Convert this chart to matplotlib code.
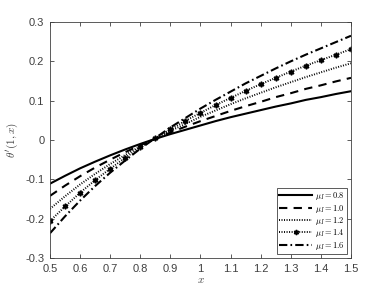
import matplotlib
matplotlib.use("Agg")
import matplotlib.pyplot as plt

plt.rcParams['mathtext.fontset'] = 'cm'
plt.rcParams['font.family'] = ['Liberation Sans', 'DejaVu Sans']

x = [0.50, 0.55, 0.60, 0.65, 0.70, 0.75, 0.80, 0.85, 0.90, 0.95, 1.00,
     1.05, 1.10, 1.15, 1.20, 1.25, 1.30, 1.35, 1.40, 1.45, 1.50]

mu08 = [-0.111, -0.091, -0.072, -0.055, -0.039, -0.024, -0.010, 0.003, 0.015, 0.026, 0.037,
        0.048, 0.058, 0.067, 0.076, 0.085, 0.093, 0.102, 0.109, 0.117, 0.124]
mu10 = [-0.142, -0.116, -0.092, -0.070, -0.050, -0.031, -0.013, 0.003, 0.019, 0.034, 0.048,
        0.061, 0.074, 0.086, 0.097, 0.109, 0.119, 0.130, 0.139, 0.149, 0.158]
mu12 = [-0.175, -0.143, -0.113, -0.086, -0.061, -0.038, -0.016, 0.004, 0.023, 0.041, 0.059,
        0.075, 0.091, 0.106, 0.120, 0.134, 0.147, 0.160, 0.172, 0.184, 0.195]
mu14 = [-0.206, -0.169, -0.134, -0.102, -0.073, -0.045, -0.019, 0.005, 0.027, 0.049, 0.069,
        0.089, 0.107, 0.125, 0.142, 0.158, 0.174, 0.189, 0.203, 0.217, 0.231]
mu16 = [-0.237, -0.194, -0.154, -0.117, -0.083, -0.052, -0.022, 0.005, 0.032, 0.056, 0.080,
        0.102, 0.123, 0.144, 0.163, 0.182, 0.200, 0.217, 0.233, 0.249, 0.265]

labels = [r'$\mu_I=0.8$', r'$\mu_I=1.0$', r'$\mu_I=1.2$', r'$\mu_I=1.4$', r'$\mu_I=1.6$']

# six-point star like matlab hexagram
hexagram = (6, 1, 0)

fig = plt.figure(figsize=(3.88, 2.91), dpi=100)
ax = fig.add_axes([0.1289, 0.1134, 0.7757, 0.811])

ax.plot(x, mu08, color='k', lw=1.5, ls='-', label=labels[0])
ax.plot(x, mu10, color='k', lw=1.5, ls=(0, (4, 3)), label=labels[1])
ax.plot(x, mu12, color='k', lw=1.4, ls=(0, (0.5, 0.8)), label=labels[2])
ax.plot(x, mu14, color='k', lw=1.4, ls=(0, (0.5, 0.8)), marker=hexagram, ms=4,
        mfc='k', mec='k', label=labels[3])
ax.plot(x, mu16, color='k', lw=1.5, ls=(0, (4, 1.5, 0.8, 1.5)), label=labels[4])

ax.set_xlim(0.5, 1.5)
ax.set_ylim(-0.3, 0.3)
ax.set_xticks([0.5, 0.6, 0.7, 0.8, 0.9, 1.0, 1.1, 1.2, 1.3, 1.4, 1.5])
ax.set_xticklabels(['0.5', '0.6', '0.7', '0.8', '0.9', '1', '1.1', '1.2', '1.3', '1.4', '1.5'])
ax.set_yticks([-0.3, -0.2, -0.1, 0, 0.1, 0.2, 0.3])
ax.set_yticklabels(['-0.3', '-0.2', '-0.1', '0', '0.1', '0.2', '0.3'])

grey = '#404040'
for s in ax.spines.values():
    s.set_color(grey)
    s.set_linewidth(0.6)
ax.tick_params(direction='in', top=True, right=True, length=3, width=0.6,
               colors=grey, labelsize=8, pad=4)

ax.set_xlabel(r'$x$', fontsize=8, color=grey, labelpad=1)
ax.set_ylabel(r"$\theta'(1,x)$", fontsize=8, color=grey, labelpad=4)

leg = ax.legend(loc='lower right', fontsize=6, handlelength=4.0, handletextpad=0.3,
                labelspacing=0.05, borderpad=0.25, borderaxespad=0.5,
                fancybox=False, framealpha=1, edgecolor=grey, markerscale=0.9)
leg.get_frame().set_linewidth(0.6)

fig.savefig('out.png', dpi=100)
